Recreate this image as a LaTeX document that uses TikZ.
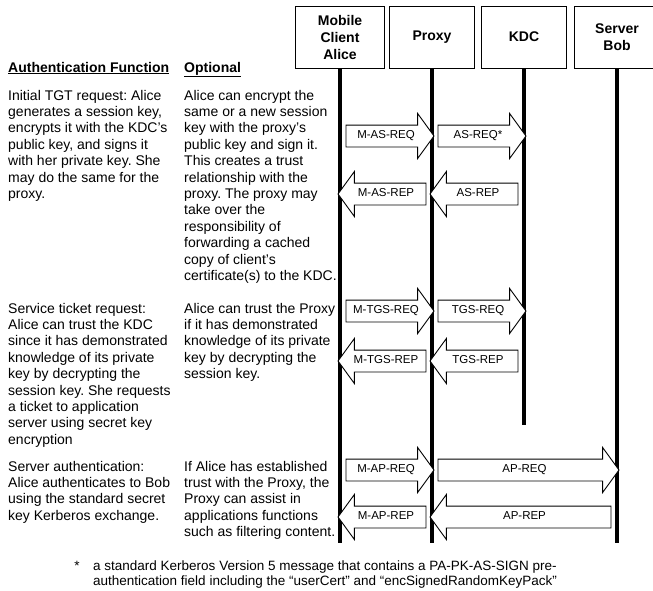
\documentclass[tikz,border=0pt]{standalone}
\usepackage{fontspec}
\setmainfont{Liberation Sans}
\usetikzlibrary{shapes.arrows}
\frenchspacing

\begin{document}
\begin{tikzpicture}[x=1pt,y=-1pt,
  party/.style={draw, line width=0.9pt, minimum height=62pt, align=center, inner sep=0pt, font=\fontsize{14}{17}\selectfont\bfseries},
  lifeline/.style={line width=4pt},
  msg/.style={single arrow, draw, fill=white, line width=0.9pt, single arrow head extend=11.5pt, single arrow tip angle=108, text height=8pt, text depth=2.5pt, inner ysep=5.25pt, inner xsep=2pt, font=\fontsize{11.5}{13}\selectfont},
  req/.style={msg},
  rep/.style={msg, shape border rotate=180},
  head/.style={anchor=base west, inner sep=0pt, font=\fontsize{14}{16.4}\selectfont\bfseries},
  txt/.style={anchor=north west, align=left, inner sep=0pt, font=\fontsize{14}{16.4}\selectfont}]
\useasboundingbox (0,0) rectangle (653,590);

\node[party, minimum width=89pt] (alice) at (340,37) {Mobile\\Client\\Alice};
\node[party, minimum width=85pt] (proxy) at (432,37) {Proxy};
\node[party, minimum width=85pt] (kdc) at (524,37) {KDC};
\node[party, minimum width=86pt] (bob) at (617,37) {Server\\Bob};

\coordinate (aliceend) at (340,543);
\coordinate (proxyend) at (432,543);
\coordinate (kdcend) at (524,425);
\coordinate (bobend) at (617,543);
\draw[lifeline] (alice.south) -- (aliceend);
\draw[lifeline] (proxy.south) -- (proxyend);
\draw[lifeline] (kdc.south) -- (kdcend);
\draw[lifeline] (bob.south) -- (bobend);

\node[head] (hfunc) at (8,72) {\underline{Authentication Function}};
\node[head] (hopt) at (184,72) {\underline{Optional}};

\node[txt] (tgtfunc) at (8,89.8) {Initial TGT request: Alice\\generates a session key,\\encrypts it with the KDC’s\\public key, and signs it\\with her private key. She\\may do the same for the\\proxy.};
\node[txt] (tgtopt) at (184,89.8) {Alice can encrypt the\\same or a new session\\key with the proxy’s\\public key and sign it.\\This creates a trust\\relationship with the\\proxy. The proxy may\\take over the\\responsibility of\\forwarding a cached\\copy of client’s\\certificate(s) to the KDC.};

\node[txt] (tgsfunc) at (8,302.8) {Service ticket request:\\Alice can trust the KDC\\since it has demonstrated\\knowledge of its private\\key by decrypting the\\session key. She requests\\a ticket to application\\server using secret key\\encryption};
\node[txt] (tgsopt) at (184,302.8) {Alice can trust the Proxy\\if it has demonstrated\\knowledge of its private\\key by decrypting the\\session key.};

\node[txt] (apfunc) at (8,460.8) {Server authentication:\\Alice authenticates to Bob\\using the standard secret\\key Kerberos exchange.};
\node[txt] (apopt) at (184,460.8) {If Alice has established\\trust with the Proxy, the\\Proxy can assist in\\applications functions\\such as filtering content.};

\node[req, minimum height=88pt] (masreq) at (386,136) {M-AS-REQ};
\node[req, minimum height=88pt] (asreq) at (478,136) {AS-REQ*};
\node[rep, minimum height=88pt] (masrep) at (386,194) {M-AS-REP};
\node[rep, minimum height=88pt] (asrep) at (478,194) {AS-REP};
\node[req, minimum height=88pt] (mtgsreq) at (386,311) {M-TGS-REQ};
\node[req, minimum height=88pt] (tgsreq) at (478,311) {TGS-REQ};
\node[rep, minimum height=88pt] (mtgsrep) at (386,361) {M-TGS-REP};
\node[rep, minimum height=88pt] (tgsrep) at (478,361) {TGS-REP};
\node[req, minimum height=88pt] (mapreq) at (386,470) {M-AP-REQ};
\node[req, minimum height=181pt] (apreq) at (524.5,470) {AP-REQ};
\node[rep, minimum height=88pt] (maprep) at (386,517) {M-AP-REP};
\node[rep, minimum height=181pt] (aprep) at (524.5,517) {AP-REP};

\node[anchor=base, inner sep=0pt, font=\fontsize{13.5}{15}\selectfont] (star) at (77,570) {*};
\node[txt, font=\fontsize{13.5}{15}\selectfont] (note) at (93,560.1) {a standard Kerberos Version 5 message that contains a PA-PK-AS-SIGN pre-\\authentication field including the “userCert” and “encSignedRandomKeyPack”};
\end{tikzpicture}
\end{document}
